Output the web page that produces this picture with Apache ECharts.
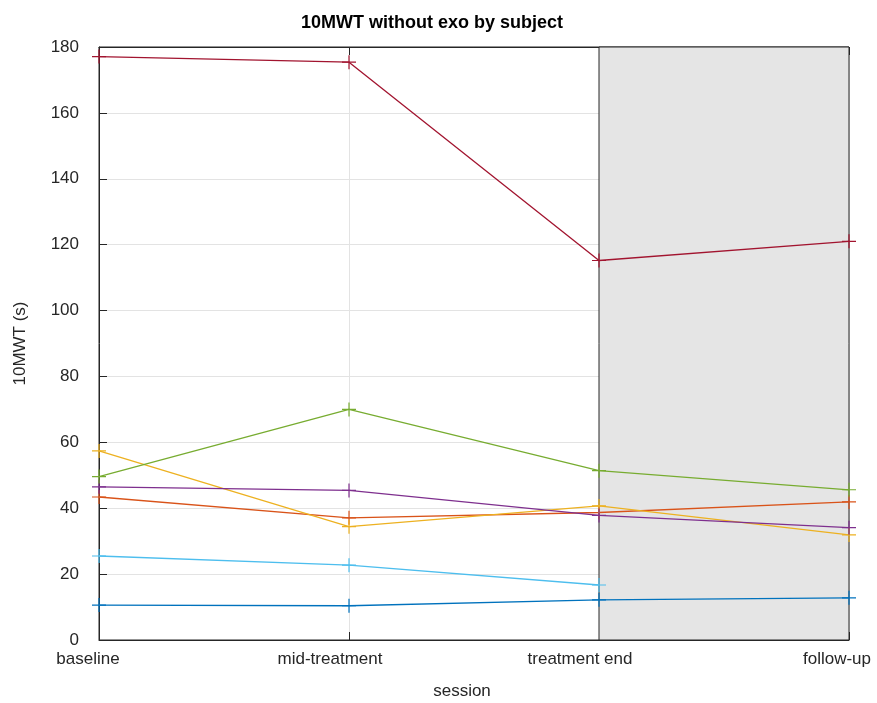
<!DOCTYPE html>
<html>
<head>
<meta charset="utf-8">
<script src="https://cdn.jsdelivr.net/npm/echarts@6/dist/echarts.min.js"></script>
<style>html,body{margin:0;padding:0;background:#fff;}#c{width:877px;height:703px;}</style>
</head>
<body>
<div id="c"></div>
<script>
const sessions = ['baseline', 'mid-treatment', 'treatment end', 'follow-up'];
const yTicks = [0, 20, 40, 60, 80, 100, 120, 140, 160, 180];
const subj1 = [10.6, 10.4, 12.2, 12.8];
const subj2 = [43.4, 37.1, 38.7, 41.9];
const subj3 = [57.4, 34.4, 40.7, 31.9];
const subj4 = [46.5, 45.4, 37.8, 34.1];
const subj5 = [49.6, 70.0, 51.4, 45.6];
const subj6 = [25.5, 22.7, 16.7, null];
const subj7 = [177.1, 175.4, 115.2, 121.0];
const subjects = [subj1, subj2, subj3, subj4, subj5, subj6, subj7];
const colors = ['#0072BD', '#D95319', '#EDB120', '#7E2F8E', '#77AC30', '#4DBEEE', '#A2142F'];

const txt = '#262626';
const font = 'Liberation Sans, Arial, Helvetica, sans-serif';
const plus = 'path://M5,0 L5,10 M0,5 L10,5';

const series = [{
  type: 'line',
  data: [],
  z: 1,
  silent: true,
  markArea: {
    silent: true,
    z: 1,
    itemStyle: { color: '#e5e5e5', borderColor: txt, borderWidth: 1 },
    data: [[{ xAxis: 'treatment end' }, { xAxis: 'follow-up' }]]
  }
}];
subjects.forEach((d, i) => {
  series.push({
    type: 'line',
    data: d,
    z: 5,
    clip: false,
    symbol: plus,
    symbolSize: 14,
    showSymbol: true,
    connectNulls: false,
    lineStyle: { color: colors[i], width: 1.3 },
    itemStyle: { color: colors[i], borderColor: colors[i], borderWidth: 1.2 },
    emphasis: { disabled: true },
    animation: false
  });
});

const lblBase = { fontFamily: font, fontSize: 17, color: txt };
const chart = echarts.init(document.getElementById('c'));
chart.setOption({
  animation: false,
  backgroundColor: '#fff',
  title: {
    text: '10MWT without exo by subject',
    left: 427, top: 9, textAlign: 'center',
    textStyle: { fontFamily: font, fontSize: 18, fontWeight: 'bold', color: '#000' }
  },
  grid: { left: 99, right: 28, top: 47, bottom: 63, show: true, borderColor: txt, borderWidth: 1, backgroundColor: 'transparent', outerBoundsMode: 'none', containLabel: false },
  xAxis: [{
    type: 'category',
    data: sessions,
    boundaryGap: false,
    name: 'session',
    nameLocation: 'middle',
    nameGap: 43,
    nameTextStyle: { fontFamily: font, fontSize: 17, color: txt, padding: [0, 24, 0, 0] },
    axisLine: { show: true, lineStyle: { color: txt, width: 1 } },
    axisTick: { show: true, inside: true, length: 8, lineStyle: { color: txt } },
    axisLabel: {
      fontFamily: font, fontSize: 17, color: txt, margin: 11,
      formatter: (v, i) => '{a' + i + '|' + v + '}',
      rich: {
        a0: Object.assign({ padding: [0, 22, 0, 0] }, lblBase),
        a1: Object.assign({ padding: [0, 38, 0, 0] }, lblBase),
        a2: Object.assign({ padding: [0, 38, 0, 0] }, lblBase),
        a3: Object.assign({ padding: [0, 24, 0, 0] }, lblBase)
      }
    },
    splitLine: { show: true, lineStyle: { color: '#e3e3e3', width: 1 } }
  }, {
    type: 'category',
    data: sessions,
    boundaryGap: false,
    position: 'top',
    axisLine: { show: true, lineStyle: { color: txt, width: 1 } },
    axisTick: { show: true, inside: true, length: 8, lineStyle: { color: txt } },
    axisLabel: { show: false },
    splitLine: { show: false }
  }],
  yAxis: {
    type: 'value',
    min: yTicks[0], max: yTicks[yTicks.length - 1], interval: 20,
    name: '10MWT (s)',
    nameLocation: 'middle',
    nameGap: 70,
    nameTextStyle: { fontFamily: font, fontSize: 17, color: txt },
    axisLine: { show: true, lineStyle: { color: txt, width: 1 } },
    axisTick: { show: true, inside: true, length: 8, lineStyle: { color: txt } },
    axisLabel: { fontFamily: font, fontSize: 17, color: txt, margin: 20 },
    splitLine: { show: true, lineStyle: { color: '#e3e3e3', width: 1 } }
  },
  series: series
});
</script>
</body>
</html>
